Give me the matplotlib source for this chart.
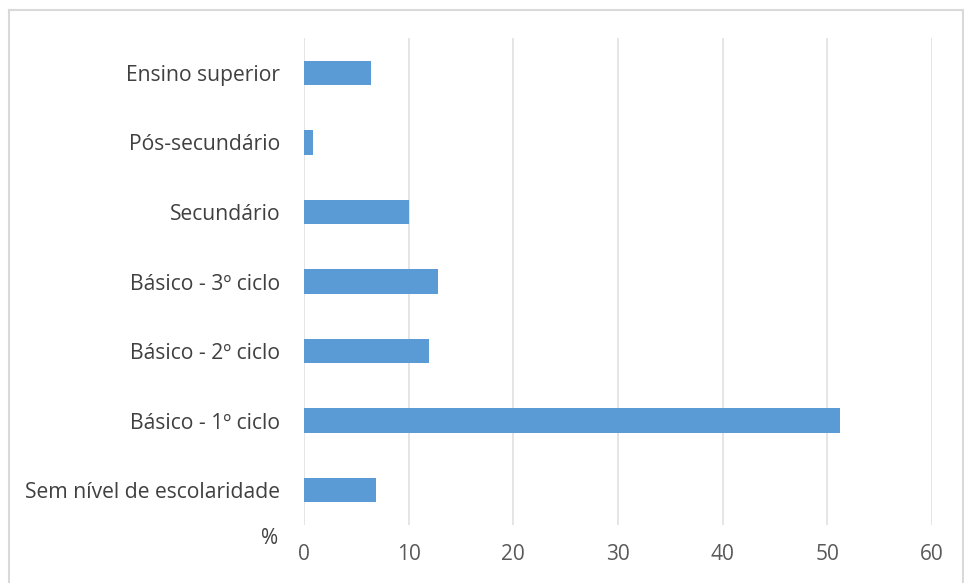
import matplotlib
matplotlib.use("Agg")
import matplotlib.pyplot as plt
from matplotlib.lines import Line2D

categories = ["Sem nível de escolaridade", "Básico - 1º ciclo", "Básico - 2º ciclo",
              "Básico - 3º ciclo", "Secundário", "Pós-secundário", "Ensino superior"]
values = [6.9, 51.2, 11.9, 12.8, 10.0, 0.9, 6.4]
xticks = [0, 10, 20, 30, 40, 50, 60]

plt.rcParams['font.family'] = ['Open Sans', 'DejaVu Sans']

fig = plt.figure(figsize=(9.64, 5.83), dpi=100)
ax = fig.add_axes([304/964, 1-525/583, (932-304)/964, (525-38)/583])

ax.barh(range(len(categories)), values, height=0.35, color="#5B9BD5", zorder=3)
ax.set_xlim(0, 60)
ax.set_ylim(-0.5, len(categories)-0.5)
ax.set_xticks(xticks)
ax.set_xticklabels([str(t) for t in xticks], fontsize=15, color="#595959")
ax.set_yticks(range(len(categories)))
ax.set_yticklabels(categories, fontsize=15.2, color="#404040")
ax.tick_params(axis='both', length=0)
ax.tick_params(axis='x', pad=14)
ax.tick_params(axis='y', pad=17)
for s in ax.spines.values():
    s.set_visible(False)
ax.grid(axis='x', color="#E0E0E0", linewidth=1.2, zorder=0)
ax.grid(axis='y', visible=False)

fig.text(270/964, 1-538/583, "%", fontsize=15, color="#404040", ha='center', va='center')

border = dict(transform=fig.transFigure, color="#D9D9D9", linewidth=1.5)
fig.lines.append(Line2D([9/964, 9/964], [0, 1-10/583], **border))
fig.lines.append(Line2D([9/964, 963/964], [1-10/583, 1-10/583], **border))
fig.lines.append(Line2D([963/964, 963/964], [0, 1-10/583], **border))

fig.savefig("out.png", dpi=100)
